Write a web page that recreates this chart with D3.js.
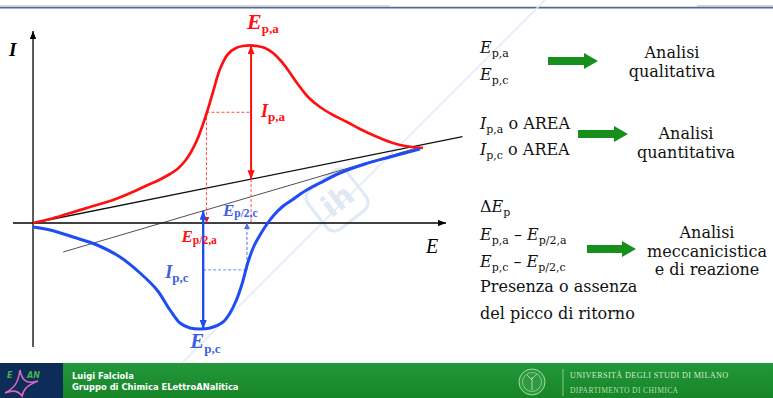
<!DOCTYPE html>
<html>
<head>
<meta charset="utf-8">
<script src="https://cdn.jsdelivr.net/npm/d3@7"></script>
<style>
  html, body { margin: 0; padding: 0; background: #fff; overflow: hidden; }
  text { white-space: pre; }
</style>
</head>
<body>
<svg id="chart" width="773" height="398"></svg>
<script>
// ---- Cyclic voltammogram: potential E and current I (arbitrary units) ----
const anodicE   = [0, 4.12, 8.23, 13.80, 19.37, 24.70, 28.33, 30.75, 33.17, 35.11, 36.80, 38.26, 39.71, 40.92, 42.13, 43.58, 45.28, 47.22, 49.15, 50.85, 52.54, 54.24, 56.17, 58.11, 60.05, 61.74, 63.92, 66.59, 69.49, 72.64, 76.03, 79.18, 82.81, 86.44, 88.86, 91.77, 94.43];
const anodicI   = [0, 1.0, 2.25, 4.0, 5.75, 8.0, 9.75, 10.875, 12.25, 13.625, 15.5, 17.75, 20.75, 24.0, 27.75, 32.75, 38.5, 42.25, 43.75, 44.25, 44.4, 44.25, 43.75, 42.5, 40.5, 38.25, 35.0, 31.5, 29.0, 27.0, 25.25, 23.5, 21.75, 20.25, 19.5, 19.0, 18.75];
const cathodicE = [0, 4.12, 9.69, 15.50, 21.07, 25.91, 30.02, 33.17, 35.59, 38.01, 40.44, 42.86, 46.00, 47.70, 49.15, 50.61, 52.06, 53.51, 54.96, 56.66, 58.35, 60.29, 62.71, 65.86, 69.49, 74.33, 80.39, 86.44, 90.07, 93.70];
const cathodicI = [-1.0, -1.75, -3.5, -5.5, -8.5, -12.5, -16.75, -21.75, -25.0, -26.25, -26.5, -26.25, -24.75, -22.5, -19.5, -15.25, -9.75, -5.75, -3.0, -0.25, 2.0, 4.0, 5.75, 8.0, 10.0, 12.5, 14.75, 16.5, 17.5, 18.5];

// Extrapolated baselines (E, I end points)
const anodicBaseE   = [0, 104];
const anodicBaseI   = [0, 21.6];
const cathodicBaseE = [7.3, 93.7];
const cathodicBaseI = [-7.25, 19.0];

// Peak and half-peak potentials
const peakNames = ["Ep,a", "Ep/2,a", "Ep,c", "Ep/2,c"];
const peakE     = [52.8, 42.0, 41.2, 51.8];
const peakI     = [44.4, null, -26.5, null];

// Axis extents
const eDomain = [-4.85, 100];
const iDomain = [-31, 48];

// Right-hand notes
const notesQual  = ["Analisi", "qualitativa"];
const notesQuant = ["Analisi", "quantitativa"];
const notesMech  = ["Analisi", "meccanicistica", "e di reazione"];
const notesExtra = ["Presenza o assenza", "del picco di ritorno"];

const svg = d3.select("#chart");
const x = d3.scaleLinear().domain(eDomain).range([13, 446]);
const y = d3.scaleLinear().domain(iDomain).range([347, 31]);

const RED = "#ff1010", BLUE = "#1f4cf5", BLUE_T = "#3d5fe6", GREEN = "#168f1d";

// ---- markers ----
const defs = svg.append("defs");
function marker(id, color, len, half) {
  defs.append("marker").attr("id", id)
    .attr("markerUnits", "userSpaceOnUse")
    .attr("viewBox", `0 ${-half} ${len} ${2 * half}`)
    .attr("refX", len).attr("refY", 0)
    .attr("markerWidth", len).attr("markerHeight", 2 * half)
    .attr("orient", "auto-start-reverse")
    .append("path").attr("d", `M0,${-half}L${len},0L0,${half}Z`).attr("fill", color);
}
marker("ax", "#000", 8, 3.2);
marker("rd", RED, 9, 3.6);
marker("bl", BLUE, 9, 3.6);
marker("rdS", RED, 6, 3);
marker("blS", "#4a6cf0", 6, 3);

const grad = defs.append("linearGradient").attr("id", "foot").attr("x1", 0).attr("y1", 0).attr("x2", 0).attr("y2", 1);
grad.append("stop").attr("offset", "0%").attr("stop-color", "#22983a");
grad.append("stop").attr("offset", "100%").attr("stop-color", "#178528");

// ---- slide header rule ----
svg.append("line").attr("x1", 0).attr("x2", 390).attr("y1", 5.8).attr("y2", 5.8).attr("stroke", "#c3cbe0").attr("stroke-width", 1);
svg.append("line").attr("x1", 697).attr("x2", 773).attr("y1", 5.8).attr("y2", 5.8).attr("stroke", "#b8bec9").attr("stroke-width", 1);
svg.append("line").attr("x1", 0).attr("x2", 773).attr("y1", 7.6).attr("y2", 7.6).attr("stroke", "#56688f").attr("stroke-width", 1.6);

// ---- faint watermark ----
const wm = svg.append("g");
wm.append("line").attr("x1", 545).attr("y1", 0).attr("x2", 183).attr("y2", 362)
  .attr("stroke", "#e0eaf5").attr("stroke-width", 1.5);
const logo = wm.append("g").attr("transform", "translate(337,200) rotate(-38)");
logo.append("rect").attr("x", -25).attr("y", -25).attr("width", 50).attr("height", 50).attr("rx", 10)
  .attr("fill", "none").attr("stroke", "#e0eaf5").attr("stroke-width", 3);
logo.append("text").attr("x", 0).attr("y", 11).attr("text-anchor", "middle")
  .attr("font-family", "DejaVu Sans").attr("font-weight", "bold").attr("font-size", 30)
  .attr("fill", "#dfe9f4").text("ih");

// ---- axes ----
svg.append("line").attr("x1", x(0)).attr("x2", x(0)).attr("y1", y(iDomain[0])).attr("y2", y(iDomain[1]))
  .attr("stroke", "#000").attr("stroke-width", 1.3).attr("marker-end", "url(#ax)");
svg.append("line").attr("x1", x(eDomain[0])).attr("x2", x(eDomain[1])).attr("y1", y(0)).attr("y2", y(0))
  .attr("stroke", "#000").attr("stroke-width", 1.3).attr("marker-end", "url(#ax)");
svg.append("text").attr("x", 9).attr("y", 56).attr("font-family", "Liberation Serif")
  .attr("font-style", "italic").attr("font-weight", "bold").attr("font-size", 19).text("I");
svg.append("text").attr("x", 426).attr("y", 253).attr("font-family", "Liberation Serif")
  .attr("font-style", "italic").attr("font-size", 20).text("E");

// ---- baselines ----
const seg = (es, is) => d3.line()(es.map((e, k) => [x(e), y(is[k])]));
svg.append("path").attr("d", seg(anodicBaseE, anodicBaseI)).attr("stroke", "#111").attr("stroke-width", 1.3).attr("fill", "none");
svg.append("path").attr("d", seg(cathodicBaseE, cathodicBaseI)).attr("stroke", "#222").attr("stroke-width", 0.8).attr("fill", "none");

const baseAt = (es, is, e) => is[0] + (is[1] - is[0]) * (e - es[0]) / (es[1] - es[0]);

// ---- dashed guides ----
const [ePa, ePa2, ePc, ePc2] = peakE;
const baseA = baseAt(anodicBaseE, anodicBaseI, ePa);
const halfA = (peakI[0] + baseA) / 2;
const baseC = baseAt(cathodicBaseE, cathodicBaseI, ePc);
const halfC = (peakI[2] + baseC) / 2;

function dashed(x1, y1, x2, y2, color, mk) {
  const l = svg.append("line").attr("x1", x1).attr("y1", y1).attr("x2", x2).attr("y2", y2)
    .attr("stroke", color).attr("stroke-width", 1).attr("stroke-dasharray", "3,2");
  if (mk) l.attr("marker-end", `url(#${mk})`);
}
dashed(x(ePa2), y(halfA), x(ePa), y(halfA), "#ff4a4a");
dashed(x(ePa2), y(halfA), x(ePa2), y(0), "#ff4a4a", "rdS");
dashed(x(ePa), y(baseA), x(ePa), y(0), "#ff4a4a");
dashed(x(ePc), y(halfC), x(ePc2), y(halfC), "#6f8cf2");
dashed(x(ePc2), y(halfC), x(ePc2), y(0), "#4a6cf0", "blS");

// ---- voltammogram branches ----
const curve = d3.line().curve(d3.curveCatmullRom.alpha(0.5));
svg.append("path").attr("d", curve(anodicE.map((e, k) => [x(e), y(anodicI[k])])))
  .attr("fill", "none").attr("stroke", RED).attr("stroke-width", 2.7).attr("stroke-linejoin", "round");
svg.append("path").attr("d", curve(cathodicE.map((e, k) => [x(e), y(cathodicI[k])])))
  .attr("fill", "none").attr("stroke", BLUE).attr("stroke-width", 3).attr("stroke-linejoin", "round");

// ---- peak current arrows ----
svg.append("line").attr("x1", x(ePa)).attr("x2", x(ePa)).attr("y1", y(baseA)).attr("y2", y(peakI[0]))
  .attr("stroke", RED).attr("stroke-width", 2).attr("marker-start", "url(#rd)").attr("marker-end", "url(#rd)");
svg.append("line").attr("x1", x(ePc)).attr("x2", x(ePc)).attr("y1", y(baseC)).attr("y2", y(peakI[2]))
  .attr("stroke", BLUE).attr("stroke-width", 2.4).attr("marker-start", "url(#bl)").attr("marker-end", "url(#bl)");

// ---- rich text helper (italic symbols + subscripts) ----
function rich(parent, px, py, parts, o) {
  const t = parent.append("text").attr("x", px).attr("y", py)
    .attr("font-family", o.family).attr("font-size", o.size).attr("fill", o.color)
    .attr("font-weight", o.weight || "normal");
  if (o.anchor) t.attr("text-anchor", o.anchor);
  let shift = 0;
  parts.forEach(p => {
    const s = t.append("tspan").text(p.t);
    const target = p.sub ? o.subDy : 0;
    if (target - shift !== 0) s.attr("dy", target - shift);
    shift = target;
    if (p.sub) s.attr("font-size", o.subSize);
    if (p.it) s.attr("font-style", "italic");
  });
  return t;
}

// ---- chart labels ----
const lbl = (px, py, sym, sub, color, size, subSize, subDy) =>
  rich(svg, px, py, [{ t: sym, it: true }, { t: sub, sub: true }],
    { family: "Liberation Serif", size, subSize, subDy, color, weight: "bold" });

lbl(x(ePa) - 4, y(peakI[0]) - 16, "E", "p,a", RED, 22, 13, 4);
lbl(x(ePa) + 10, y(halfA) + 5, "I", "p,a", RED, 18, 13, 4);
lbl(x(ePa2) - 25, y(0) + 19, "E", "p/2,a", RED, 17, 11.5, 2);
lbl(x(ePc2) - 24, y(0) - 7, "E", "p/2,c", BLUE_T, 17, 11.5, 1);
lbl(x(ePc) - 38, y(halfC) + 8, "I", "p,c", BLUE_T, 18, 13, 4);
lbl(x(ePc) - 13, y(peakI[2]) + 19, "E", "p,c", BLUE_T, 21, 13, 5);

// ---- right-hand notes ----
const note = { family: "DejaVu Serif", size: 16, subSize: 11, subDy: 4, color: "#111" };
rich(svg, 480, 53, [{ t: "E", it: true }, { t: "p,a", sub: true }], note);
rich(svg, 480, 80, [{ t: "E", it: true }, { t: "p,c", sub: true }], note);
rich(svg, 480, 129, [{ t: "I", it: true }, { t: "p,a", sub: true }, { t: " o AREA" }], note);
rich(svg, 480, 155, [{ t: "I", it: true }, { t: "p,c", sub: true }, { t: " o AREA" }], note);
rich(svg, 480, 212, [{ t: "Δ" }, { t: "E", it: true }, { t: "p", sub: true }], note);
rich(svg, 480, 240, [{ t: "E", it: true }, { t: "p,a", sub: true }, { t: " – " }, { t: "E", it: true }, { t: "p/2,a", sub: true }], note);
rich(svg, 480, 267, [{ t: "E", it: true }, { t: "p,c", sub: true }, { t: " – " }, { t: "E", it: true }, { t: "p/2,c", sub: true }], note);
notesExtra.forEach((s, k) => rich(svg, 480, 292 + k * 27, [{ t: s }], note));

const block = (cx, y0, lines, step) =>
  lines.forEach((s, k) => rich(svg, cx, y0 + k * step, [{ t: s }], Object.assign({ anchor: "middle" }, note)));
block(672, 58, notesQual, 19);
block(686, 139, notesQuant, 19);
block(707, 238, notesMech, 18.5);

function greenArrow(x0, x1, yc) {
  const hl = 14, sh = 4, hh = 8;
  svg.append("path")
    .attr("d", `M${x0},${yc - sh}L${x1 - hl},${yc - sh}L${x1 - hl},${yc - hh}L${x1},${yc}L${x1 - hl},${yc + hh}L${x1 - hl},${yc + sh}L${x0},${yc + sh}Z`)
    .attr("fill", GREEN);
}
greenArrow(548, 598, 61);
greenArrow(578, 628, 134);
greenArrow(587, 636, 249);

// ---- footer ----
svg.append("rect").attr("x", 0).attr("y", 363).attr("width", 773).attr("height", 35).attr("fill", "url(#foot)");
svg.append("rect").attr("x", 0).attr("y", 363).attr("width", 63).attr("height", 35).attr("fill", "#0d2c57");
svg.append("path").attr("d", "M5,393 C14,388 18,384 20,370 C22,382 28,384 38,381 C28,385 24,388 22,396 C18,390 12,390 5,393")
  .attr("fill", "none").attr("stroke", "#d66ac0").attr("stroke-width", 1.6);
svg.append("text").attr("x", 7).attr("y", 378).attr("font-family", "DejaVu Sans").attr("font-weight", "bold")
  .attr("font-style", "italic").attr("font-size", 8).attr("fill", "#46b04a").text("E");
svg.append("text").attr("x", 27).attr("y", 378).attr("font-family", "DejaVu Sans").attr("font-weight", "bold")
  .attr("font-style", "italic").attr("font-size", 8).attr("fill", "#46b04a").text("AN");
const foot = svg.append("g").attr("font-family", "DejaVu Sans").attr("font-weight", "bold")
  .attr("font-size", 8.4).attr("fill", "#fff");
foot.append("text").attr("x", 72).attr("y", 379).text("Luigi Falciola");
foot.append("text").attr("x", 72).attr("y", 390).text("Gruppo di Chimica ELettroANalitica");

svg.append("circle").attr("cx", 532).attr("cy", 382).attr("r", 13).attr("fill", "#2e9a40").attr("stroke", "#a6d8a6").attr("stroke-width", 1);
svg.append("circle").attr("cx", 532).attr("cy", 382).attr("r", 9.5).attr("fill", "none").attr("stroke", "#9ccf9c").attr("stroke-width", 0.8);
svg.append("path").attr("d", "M532,390 L532,377 M532,380 L527,375 M532,379 L537,374").attr("stroke", "#a6d8a6").attr("stroke-width", 1).attr("fill", "none");
svg.append("line").attr("x1", 563).attr("x2", 563).attr("y1", 369).attr("y2", 396).attr("stroke", "#9fd49f").attr("stroke-width", 0.8);
svg.append("text").attr("x", 570).attr("y", 378).attr("font-family", "Liberation Serif").attr("font-size", 8.2)
  .attr("letter-spacing", 0.35).attr("fill", "#d2ecca").text("UNIVERSITÀ DEGLI STUDI DI MILANO");
svg.append("text").attr("x", 570).attr("y", 393).attr("font-family", "Liberation Serif").attr("font-size", 7.6)
  .attr("letter-spacing", 0.35).attr("fill", "#b2ddb0").text("DIPARTIMENTO DI CHIMICA");
</script>
</body>
</html>
